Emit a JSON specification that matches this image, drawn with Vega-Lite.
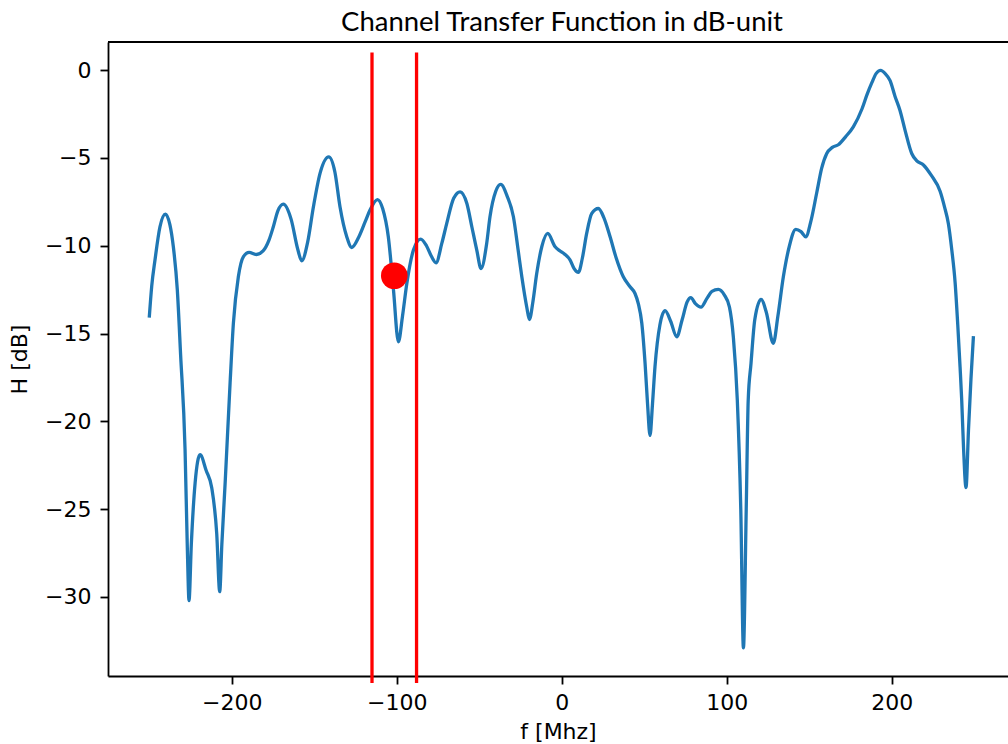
{
  "$schema": "https://vega.github.io/schema/vega-lite/v6.json",
  "width": 900,
  "height": 634,
  "autosize": {"type": "none"},
  "padding": {"left": 108, "top": 42, "right": 0, "bottom": 68},
  "background": "white",
  "config": {
    "view": {"stroke": null},
    "axis": {
      "grid": false,
      "domain": true,
      "domainColor": "#000",
      "domainWidth": 1.8,
      "tickColor": "#000",
      "tickWidth": 1.8,
      "tickSize": 8,
      "labelFont": "DejaVu Sans",
      "labelFontSize": 22,
      "labelColor": "#000",
      "titleFont": "DejaVu Sans",
      "titleFontSize": 22,
      "titleFontWeight": "normal",
      "titleColor": "#000"
    }
  },
  "title": {
    "text": "Channel Transfer Function in dB-unit",
    "font": "Lato",
    "fontSize": 27.5,
    "fontWeight": "normal",
    "color": "#000",
    "anchor": "middle",
    "dx": 4,
    "offset": 5
  },
  "datasets": {
    "curve": [
      {"f": -250, "H": -14.1}, {"f": -248.5, "H": -12.3}, {"f": -246.5, "H": -10.8}, {"f": -243.5, "H": -8.92},
      {"f": -240.2, "H": -8.2}, {"f": -237.5, "H": -8.8}, {"f": -235.4, "H": -10.06}, {"f": -233, "H": -12.5},
      {"f": -231, "H": -16.2}, {"f": -228.3, "H": -21.6}, {"f": -226.9, "H": -27.3},
      {"f": -225.9, "H": -30.2}, {"f": -224.5, "H": -27}, {"f": -222.2, "H": -23.5}, {"f": -219.2, "H": -21.9},
      {"f": -215.5, "H": -22.8}, {"f": -212.1, "H": -23.8}, {"f": -209.1, "H": -26.4}, {"f": -207.3, "H": -29.7},
      {"f": -206, "H": -27}, {"f": -204, "H": -23.5}, {"f": -201, "H": -17.8}, {"f": -199, "H": -14.4},
      {"f": -196, "H": -11.77}, {"f": -193, "H": -10.63}, {"f": -189.5, "H": -10.38}, {"f": -185, "H": -10.5},
      {"f": -181, "H": -10.3}, {"f": -177.5, "H": -9.7}, {"f": -174.8, "H": -8.92}, {"f": -172, "H": -8.0},
      {"f": -168.7, "H": -7.63}, {"f": -164, "H": -8.5}, {"f": -160, "H": -10.2}, {"f": -157.6, "H": -10.86},
      {"f": -154, "H": -9.8}, {"f": -150.5, "H": -7.78}, {"f": -146.5, "H": -5.88}, {"f": -141.2, "H": -4.94},
      {"f": -137.5, "H": -5.8}, {"f": -134.4, "H": -7.78}, {"f": -130.3, "H": -9.49}, {"f": -127.3, "H": -10.1},
      {"f": -123, "H": -9.5}, {"f": -119, "H": -8.6}, {"f": -116.2, "H": -7.97}, {"f": -111.7, "H": -7.37},
      {"f": -108.5, "H": -7.9}, {"f": -105.1, "H": -9.5}, {"f": -102, "H": -12.5}, {"f": -99, "H": -15.47},
      {"f": -96.5, "H": -14.0}, {"f": -93.9, "H": -12.15}, {"f": -89.9, "H": -10.25}, {"f": -85.5, "H": -9.62},
      {"f": -82, "H": -10}, {"f": -79, "H": -10.6}, {"f": -76.2, "H": -10.97}, {"f": -72.7, "H": -9.87},
      {"f": -69.7, "H": -8.73}, {"f": -65.5, "H": -7.3}, {"f": -61.6, "H": -6.93}, {"f": -57.5, "H": -7.6},
      {"f": -54.5, "H": -8.92}, {"f": -51.5, "H": -10.25}, {"f": -48.9, "H": -11.3}, {"f": -45.5, "H": -9.87},
      {"f": -43.5, "H": -8.35}, {"f": -40, "H": -6.9}, {"f": -37, "H": -6.51}, {"f": -33, "H": -7.2},
      {"f": -29.3, "H": -8.35}, {"f": -26.5, "H": -10.2}, {"f": -24.2, "H": -11.77}, {"f": -21.2, "H": -13.5},
      {"f": -19.6, "H": -14.2}, {"f": -17.5, "H": -13.2}, {"f": -15.2, "H": -11.6}, {"f": -12.1, "H": -10.06},
      {"f": -8.5, "H": -9.3}, {"f": -4, "H": -10.06}, {"f": -1, "H": -10.3}, {"f": 2, "H": -10.5},
      {"f": 5, "H": -10.8}, {"f": 7.5, "H": -11.3}, {"f": 10.1, "H": -11.52}, {"f": 12.5, "H": -10.7},
      {"f": 15.1, "H": -9.3}, {"f": 18.2, "H": -8.16}, {"f": 22.2, "H": -7.88}, {"f": 25.5, "H": -8.4},
      {"f": 29.3, "H": -9.49}, {"f": 33, "H": -10.7}, {"f": 37.3, "H": -11.77}, {"f": 41.4, "H": -12.34},
      {"f": 44.4, "H": -12.72}, {"f": 46.4, "H": -13.3}, {"f": 48.5, "H": -14.4}, {"f": 50.5, "H": -16.7},
      {"f": 52, "H": -19}, {"f": 53.5, "H": -20.8}, {"f": 55, "H": -19}, {"f": 56.5, "H": -16.9},
      {"f": 59.5, "H": -14.5}, {"f": 62.6, "H": -13.7}, {"f": 66, "H": -14.3}, {"f": 69.7, "H": -15.19},
      {"f": 73, "H": -14.2}, {"f": 76, "H": -13.2}, {"f": 78.2, "H": -12.95}, {"f": 81, "H": -13.3},
      {"f": 84.4, "H": -13.5}, {"f": 88, "H": -13.0}, {"f": 91, "H": -12.6}, {"f": 94.9, "H": -12.49},
      {"f": 98.5, "H": -12.8}, {"f": 101.6, "H": -13.48}, {"f": 104, "H": -15.2}, {"f": 106.4, "H": -18.8},
      {"f": 108.5, "H": -25}, {"f": 110.1, "H": -32.9}, {"f": 111.8, "H": -25}, {"f": 113, "H": -18.8},
      {"f": 114.7, "H": -16.7}, {"f": 117, "H": -14.2}, {"f": 120.8, "H": -13.06}, {"f": 124, "H": -13.8},
      {"f": 128.2, "H": -15.56}, {"f": 131, "H": -14}, {"f": 134.3, "H": -11.77}, {"f": 138, "H": -10},
      {"f": 141.8, "H": -9.07}, {"f": 145, "H": -9.2}, {"f": 147.9, "H": -9.49}, {"f": 151, "H": -8.6},
      {"f": 154.5, "H": -7.0}, {"f": 157.5, "H": -5.6}, {"f": 160.6, "H": -4.75}, {"f": 164, "H": -4.4},
      {"f": 167.6, "H": -4.25}, {"f": 172, "H": -3.8}, {"f": 176.7, "H": -3.23}, {"f": 182, "H": -2.2},
      {"f": 185, "H": -1.4}, {"f": 188, "H": -0.7}, {"f": 190.5, "H": -0.2}, {"f": 193.3, "H": -0.02},
      {"f": 196, "H": -0.2}, {"f": 199, "H": -0.6}, {"f": 202, "H": -1.5}, {"f": 205, "H": -2.3},
      {"f": 208, "H": -3.4}, {"f": 212.1, "H": -4.75}, {"f": 215, "H": -5.15}, {"f": 219.2, "H": -5.4},
      {"f": 224, "H": -6.0}, {"f": 229.3, "H": -6.9}, {"f": 232, "H": -7.8}, {"f": 234.3, "H": -8.73},
      {"f": 236.4, "H": -10.25}, {"f": 238.4, "H": -12.1}, {"f": 240, "H": -14.5}, {"f": 241.4, "H": -16.9},
      {"f": 242.4, "H": -18.8}, {"f": 243.5, "H": -21.5}, {"f": 245, "H": -23.77}, {"f": 246.5, "H": -20.5},
      {"f": 248, "H": -17.6}, {"f": 249.5, "H": -15.15}
    ],
    "frame": [
      {"H": 1.6}
    ],
    "bounds": [
      {"f": -115, "top": 1, "bottom": -34.9},
      {"f": -88, "top": 1, "bottom": -34.9}
    ],
    "point": [
      {"f": -101.5, "H": -11.71}
    ]
  },
  "layer": [
    {
      "data": {"name": "curve"},
      "mark": {"type": "line", "color": "#1f77b4", "strokeWidth": 3.3, "interpolate": "monotone"},
      "encoding": {
        "x": {
          "field": "f",
          "type": "quantitative",
          "scale": {"domain": [-275, 270.45], "nice": false, "zero": false},
          "axis": {
            "values": [-200, -100, 0, 100, 200],
            "title": "f [Mhz]",
            "labelPadding": 8,
            "titlePadding": 8
          }
        },
        "y": {
          "field": "H",
          "type": "quantitative",
          "scale": {"domain": [-34.5, 1.6], "nice": false, "zero": false},
          "axis": {
            "values": [0, -5, -10, -15, -20, -25, -30],
            "title": "H [dB]",
            "labelPadding": 9,
            "titlePadding": 13
          }
        }
      }
    },
    {
      "data": {"name": "frame"},
      "mark": {"type": "rule", "color": "#000", "strokeWidth": 1.8, "clip": false},
      "encoding": {
        "y": {"field": "H", "type": "quantitative"}
      }
    },
    {
      "data": {"name": "bounds"},
      "mark": {"type": "rule", "color": "#ff0000", "strokeWidth": 3.3, "clip": false},
      "encoding": {
        "x": {"field": "f", "type": "quantitative"},
        "y": {"field": "top", "type": "quantitative"},
        "y2": {"field": "bottom"}
      }
    },
    {
      "data": {"name": "point"},
      "mark": {"type": "circle", "color": "#ff0000", "opacity": 1, "size": 707},
      "encoding": {
        "x": {"field": "f", "type": "quantitative"},
        "y": {"field": "H", "type": "quantitative"}
      }
    }
  ]
}
